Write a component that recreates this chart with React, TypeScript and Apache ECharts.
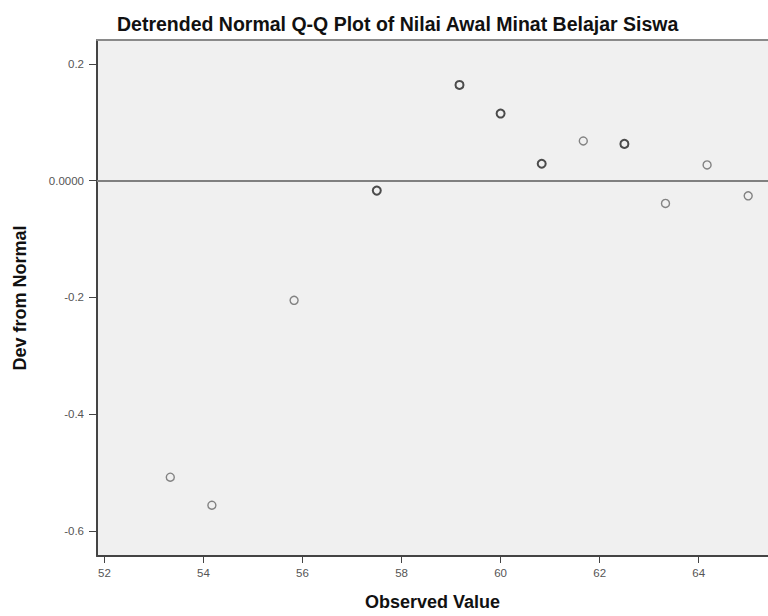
import React, { useEffect, useRef } from "react";
import * as echarts from "echarts";

const xValues = [53.33, 54.17, 55.83, 57.5, 59.17, 60.0, 60.83, 61.67, 62.5, 63.33, 64.17, 65.0];
const yValues = [-0.508, -0.556, -0.205, -0.017, 0.164, 0.115, 0.029, 0.068, 0.063, -0.039, 0.027, -0.026];
const overlap = [1, 1, 1, 2, 2, 2, 2, 1, 2, 1, 1, 1];
const xTicks = [52, 54, 56, 58, 60, 62, 64];
const yTicks = [-0.6, -0.4, -0.2, 0, 0.2];

export default function App() {
  const ref = useRef<HTMLDivElement>(null);
  useEffect(() => {
    if (!ref.current) return;
    const chart = echarts.init(ref.current, null, { renderer: "svg" });
    const tickFont = { fontFamily: "Liberation Sans", fontSize: 11.5, color: "#555" };
    chart.setOption({
      animation: false,
      backgroundColor: "#ffffff",
      title: {
        text: "Detrended Normal Q-Q Plot of Nilai Awal Minat Belajar Siswa",
        left: 112,
        top: 9,
        textStyle: { fontFamily: "Liberation Sans", fontSize: 19.5, fontWeight: "bold", color: "#111" },
      },
      grid: {
        left: 97,
        right: 0,
        top: 40,
        bottom: 60,
        show: true,
        backgroundColor: "#f0f0f0",
        borderWidth: 0,
      },
      xAxis: [
        {
          type: "value",
          min: 51.85,
          max: 65.4,
          position: "bottom",
          name: "Observed Value",
          nameLocation: "middle",
          nameGap: 37,
          nameTextStyle: { fontFamily: "Liberation Sans", fontSize: 18, fontWeight: "bold", color: "#111" },
          axisLine: { show: true, onZero: false, lineStyle: { color: "#444", width: 2 } },
          axisTick: { show: true, length: 7, customValues: xTicks, lineStyle: { color: "#444", width: 1 } },
          axisLabel: { customValues: xTicks, margin: 11, ...tickFont },
          splitLine: { show: false },
        },
        {
          type: "value",
          min: 51.85,
          max: 65.4,
          position: "top",
          axisLine: { show: true, onZero: false, lineStyle: { color: "#8a8a8a", width: 2 } },
          axisTick: { show: false },
          axisLabel: { show: false },
          splitLine: { show: false },
        },
      ],
      yAxis: {
        type: "value",
        min: -0.643,
        max: 0.241,
        name: "Dev from Normal",
        nameLocation: "middle",
        nameGap: 68,
        nameRotate: 90,
        nameTextStyle: { fontFamily: "Liberation Sans", fontSize: 18, fontWeight: "bold", color: "#111" },
        axisLine: { show: true, onZero: false, lineStyle: { color: "#444", width: 2 } },
        axisTick: { show: true, length: 8, customValues: yTicks, lineStyle: { color: "#444", width: 1 } },
        axisLabel: {
          customValues: yTicks,
          margin: 13,
          formatter: (v: number) => (v === 0 ? "0.0000" : v.toFixed(1)),
          ...tickFont,
        },
        splitLine: { show: false },
      },
      series: [
        {
          type: "scatter",
          xAxisIndex: 0,
          symbol: "circle",
          symbolSize: 8,
          data: xValues.map((x, i) => ({
            value: [x, yValues[i]],
            itemStyle: {
              color: "rgba(0,0,0,0)",
              borderColor: overlap[i] > 1 ? "#222" : "#666",
              borderWidth: overlap[i] > 1 ? 2 : 1.4,
            },
          })),
          markLine: {
            silent: true,
            symbol: "none",
            label: { show: false },
            lineStyle: { color: "#808080", width: 2, type: "solid" },
            data: [{ yAxis: 0 }],
          },
        },
      ],
    });
    return () => chart.dispose();
  }, []);
  return (
    <div
      ref={ref}
      style={{ position: "absolute", left: 0, top: 0, width: 768, height: 616 }}
    />
  );
}
